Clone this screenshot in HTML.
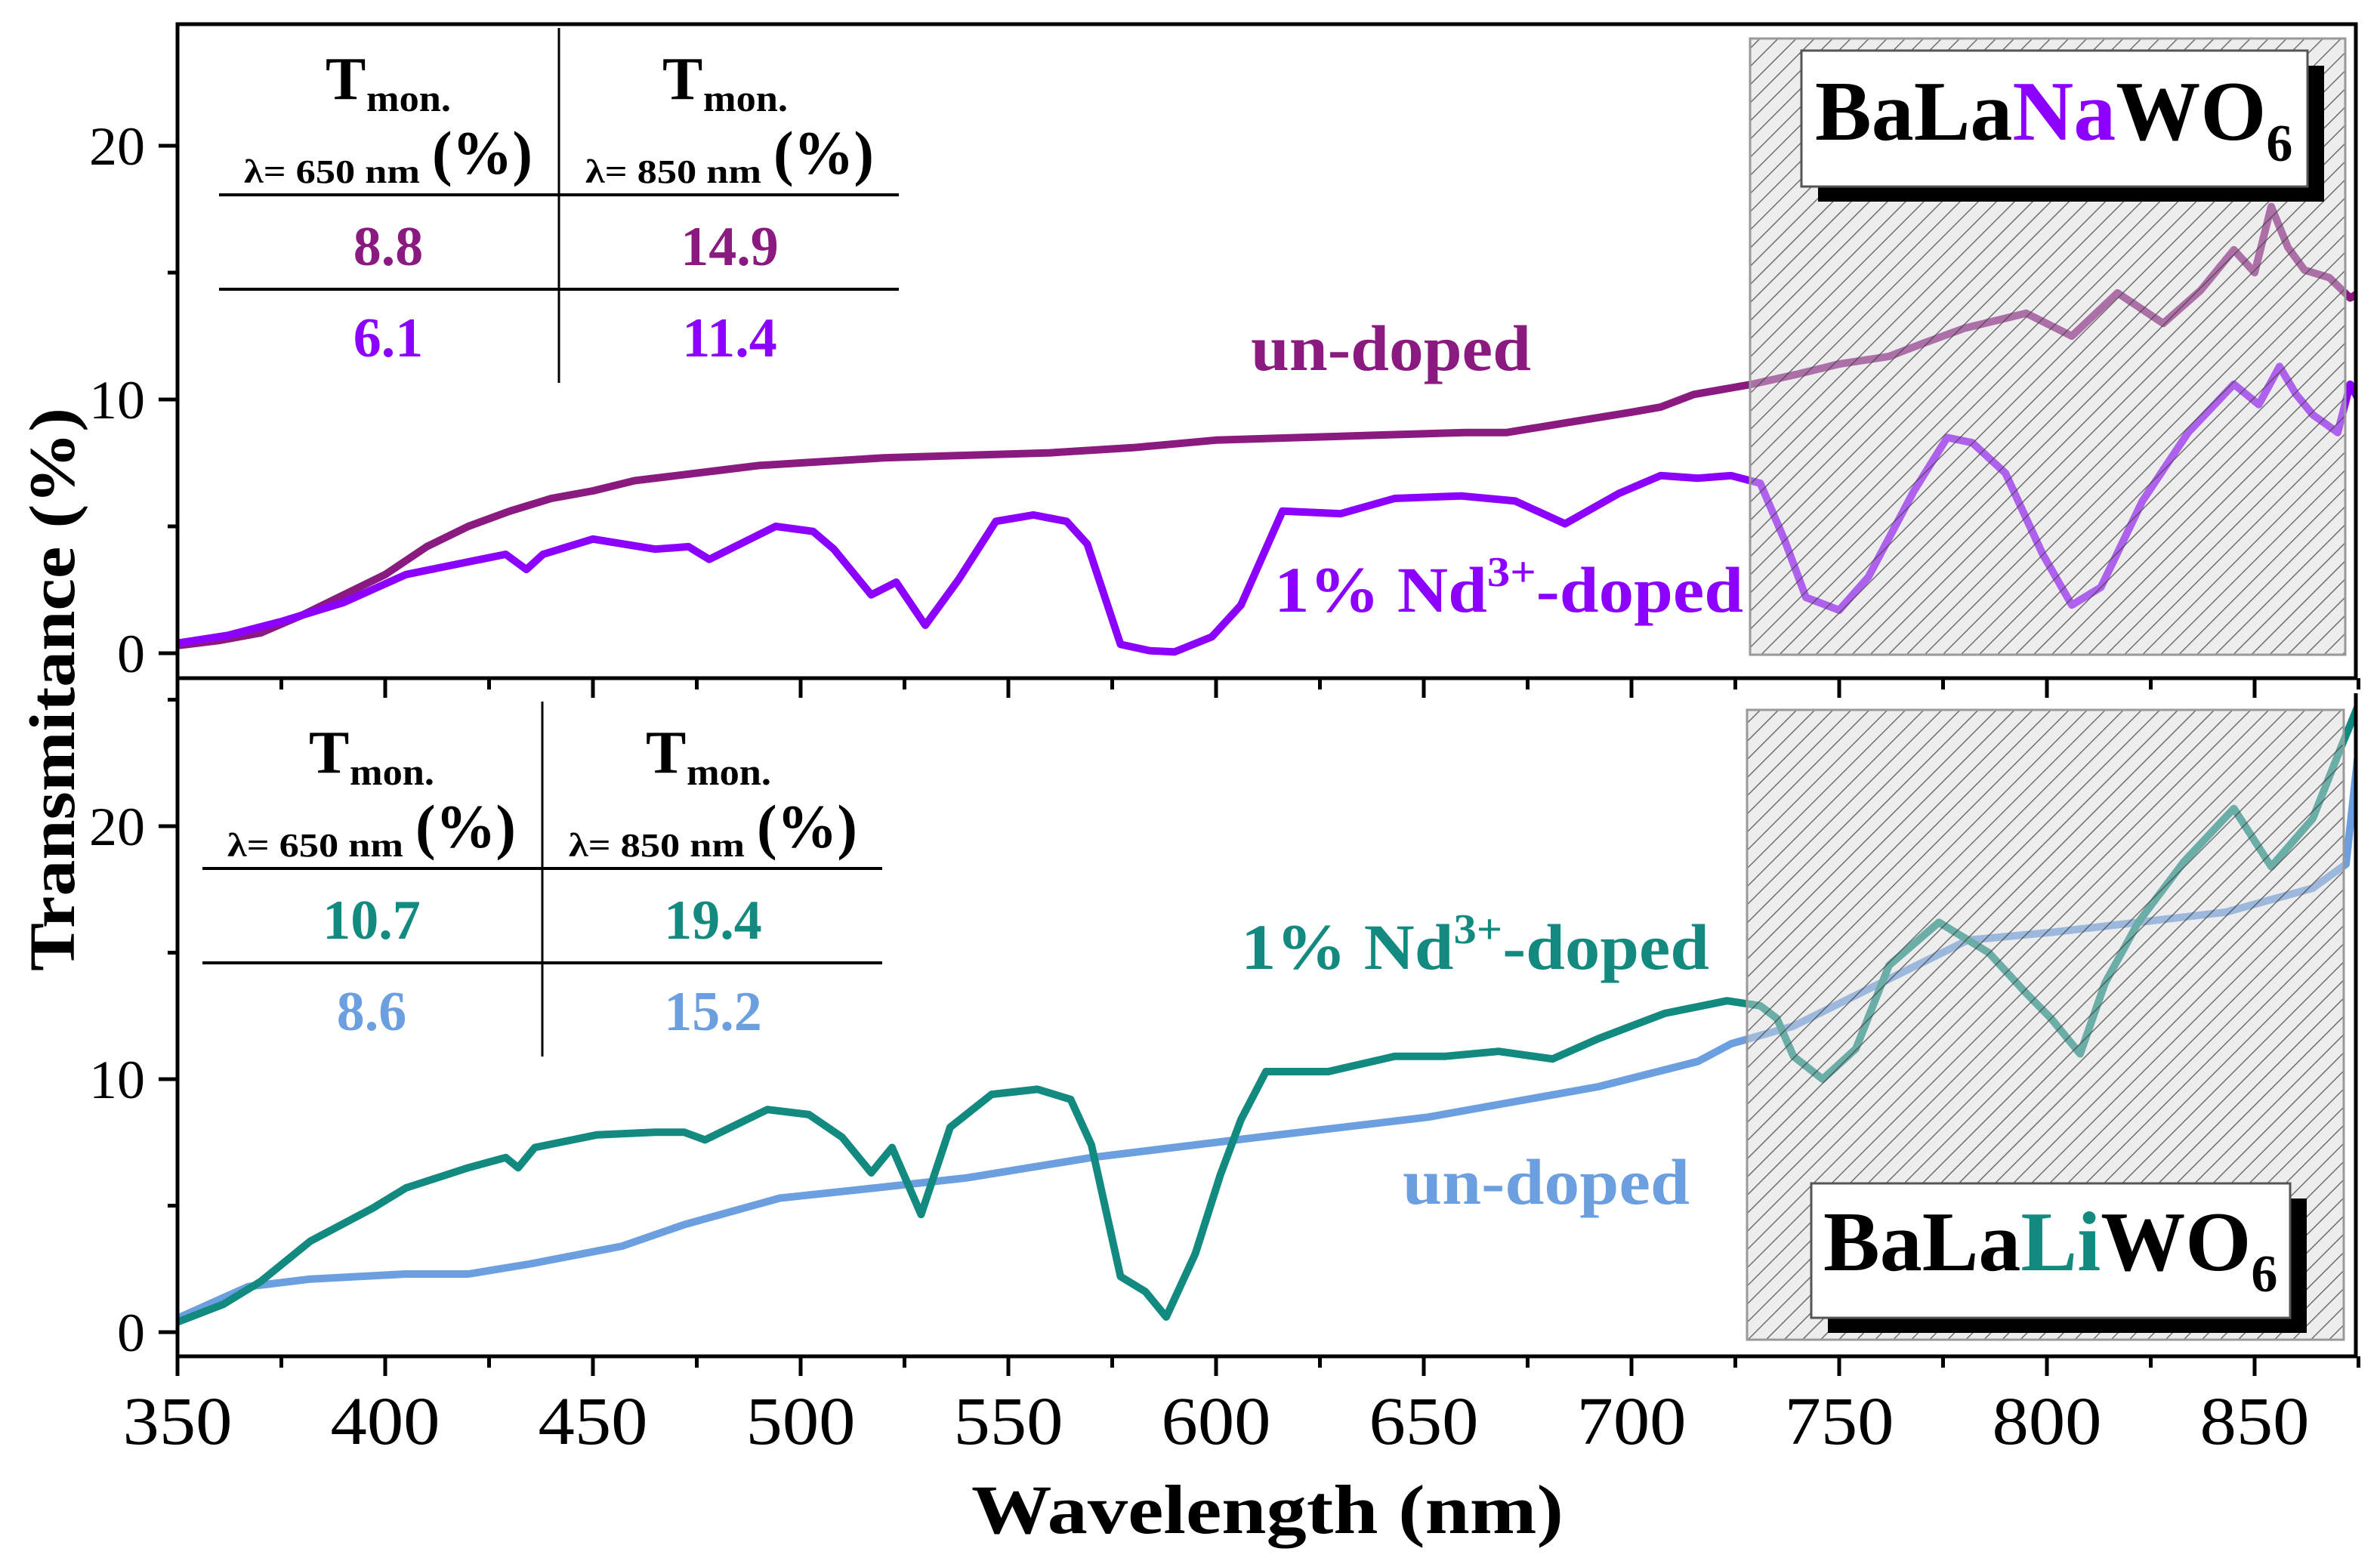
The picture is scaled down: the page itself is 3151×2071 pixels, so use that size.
<!DOCTYPE html>
<html><head><meta charset="utf-8">
<style>
html,body{margin:0;padding:0;background:#fff;}
svg{display:block;}
text{font-family:"Liberation Serif","Times New Roman",serif;}
</style></head>
<body>
<svg id="chart" width="3151" height="2071" viewBox="0 0 3151 2071" xmlns="http://www.w3.org/2000/svg">
<defs>
<pattern id="hatch" patternUnits="userSpaceOnUse" width="17" height="17" patternTransform="rotate(45)">
<rect width="17" height="17" fill="rgba(215,215,215,0.45)"/>
<line x1="0" y1="0" x2="0" y2="17" stroke="rgba(70,70,70,0.75)" stroke-width="3"/>
</pattern>
<clipPath id="clipTop"><rect x="235" y="32" width="2884" height="866"/></clipPath>
<clipPath id="clipBot"><rect x="235" y="918" width="2884" height="878"/></clipPath>
</defs>
<g id="plot"></g>
</svg>
<script>
// ---- data (wavelength nm, transmittance %) ----
const naUndopedW = [350,360,370,380,390,400,410,420,430,440,450,460,470,480,490,500,520,540,560,580,600,620,640,660,670,685,700,707,715,729,740,750,762,770,780,795,806,817,828,837,845,850,854,858,862,868,873,875];
const naUndopedV = [0.3,0.5,0.8,1.5,2.3,3.1,4.2,5.0,5.6,6.1,6.4,6.8,7.0,7.2,7.4,7.5,7.7,7.8,7.9,8.1,8.4,8.5,8.6,8.7,8.7,9.1,9.5,9.7,10.2,10.6,11.0,11.4,11.7,12.2,12.8,13.4,12.5,14.2,13.0,14.3,15.9,15.0,17.6,16.0,15.1,14.8,14.0,14.2];
const naDopedW = [350,362,375,390,405,420,429,434,438,450,465,473,478,494,503,508,517,523,530,538,547,556,564,569,577,584,590,599,606,616,630,643,659,672,684,697,707,716,724,731,737,742,750,757,768,776,782,790,799,806,813,823,834,845,851,856,860,864,870,873,875];
const naDopedV = [0.4,0.7,1.25,2.0,3.1,3.6,3.9,3.3,3.9,4.5,4.1,4.2,3.7,5.0,4.8,4.1,2.3,2.8,1.1,2.9,5.2,5.45,5.2,4.3,0.35,0.1,0.05,0.65,1.9,5.6,5.5,6.1,6.2,6.0,5.1,6.3,7.0,6.9,7.0,6.7,4.4,2.2,1.7,3.0,6.4,8.5,8.3,7.1,3.9,1.9,2.6,6.0,8.7,10.6,9.8,11.3,10.2,9.4,8.7,10.6,10.0];
const liDopedW = [350,361,370,382,397,405,420,429,432,436,451,465,472,477,492,502,510,517,522,529,536,546,557,565,570,577,583,588,595,601,606,612,627,643,655,668,681,692,708,723,731,735,739,746,754,762,774,786,795,801,808,814,822,833,845,854,864,871,875];
const liDopedV = [0.4,1.1,2.0,3.6,4.9,5.7,6.5,6.9,6.5,7.3,7.8,7.9,7.9,7.6,8.8,8.6,7.7,6.3,7.3,4.65,8.1,9.4,9.6,9.2,7.4,2.2,1.6,0.6,3.1,6.2,8.4,10.3,10.3,10.9,10.9,11.1,10.8,11.6,12.6,13.1,12.9,12.4,10.9,10.0,11.2,14.5,16.2,15.0,13.4,12.4,11.0,13.8,16.2,18.6,20.7,18.4,20.3,23.2,24.8];
const liUndopedW = [350,367,382,405,420,435,457,472,495,518,540,570,610,651,692,716,724,739,760,781,801,822,843,864,872,875];
const liUndopedV = [0.55,1.8,2.1,2.3,2.3,2.7,3.4,4.25,5.3,5.7,6.1,6.9,7.7,8.5,9.7,10.7,11.4,12.1,13.8,15.5,15.8,16.2,16.6,17.55,18.5,23.0];
const xTicks = [350,400,450,500,550,600,650,700,750,800,850];
const yTicks = [0,10,20];
const tableNa = [["8.8","14.9"],["6.1","11.4"]];
const tableLi = [["10.7","19.4"],["8.6","15.2"]];

// ---- axes ----
const X0 = 235, XPX = 5.5;
function xs(w){ return X0 + (w - 350) * XPX; }
function ysTop(v){ return 865 - 33.6 * v; }
function ysBot(v){ return 1764 - 33.5 * v; }

const NS = "http://www.w3.org/2000/svg";
const plot = document.getElementById("plot");
function mk(tag, attrs, parent){
  const e = document.createElementNS(NS, tag);
  for (const k in attrs) e.setAttribute(k, attrs[k]);
  (parent || plot).appendChild(e);
  return e;
}
function series(ws, vs, yf, color, clip, name){
  const pts = ws.map((w,i)=> xs(w).toFixed(1)+","+yf(vs[i]).toFixed(1)).join(" ");
  const p = mk("polyline", {points: pts, fill:"none", stroke: color, "stroke-width": 10, "stroke-linejoin":"round", "clip-path":"url(#"+clip+")"});
  
  
}

series(naUndopedW, naUndopedV, ysTop, "#8a1a7f", "clipTop", "na-undoped-line");
series(naDopedW, naDopedV, ysTop, "#8c00ff", "clipTop", "na-nd-doped-line");
series(liUndopedW, liUndopedV, ysBot, "#6c9fe0", "clipBot", "li-undoped-line");
series(liDopedW, liDopedV, ysBot, "#138a80", "clipBot", "li-nd-doped-line");

const h1 = mk("rect", {x:2317, y:51, width:788, height:816, fill:"url(#hatch)", stroke:"#999", "stroke-width":3});


const h2 = mk("rect", {x:2313, y:940, width:790, height:834, fill:"url(#hatch)", stroke:"#999", "stroke-width":3});



const f1 = mk("path", {d:"M235,32 H3119 V898 H235 Z", fill:"none", stroke:"#000", "stroke-width":5});


const f2 = mk("path", {d:"M235,918 V1796 H3119 V918", fill:"none", stroke:"#000", "stroke-width":5});



for (let w = 350; w <= 875; w += 25){
  const major = (w % 50 === 0);
  const len = major ? 26 : 15;
  [898, 1796].forEach(base=>{
    const t = mk("line", {x1:xs(w), x2:xs(w), y1:base, y2:base+len, stroke:"#000", "stroke-width":5});
    
    
  });
}
xTicks.forEach(w=>{
  const t = mk("text", {x:xs(w), y:1912, "font-size":90, "text-anchor":"middle", fill:"#000", textLength:145, lengthAdjust:"spacingAndGlyphs"});
  t.textContent = w;
  
  
});
[[ysTop, 0, 25], [ysBot, 0, 25]].forEach(([yf,a,b])=>{
  for (let v = a; v <= b; v += 5){
    const y = yf(v);
    if (yf === ysTop && y < 40) continue;
    if (yf === ysBot && y < 925) continue;
    const major = (v % 10 === 0);
    const t = mk("line", {x1:235, x2: major ? 210 : 222, y1:y, y2:y, stroke:"#000", "stroke-width":5});
    
    
  }
  yTicks.forEach(v=>{
    const s = String(v);
    const t = mk("text", {x:192, y:yf(v)+25, "font-size":72, "text-anchor":"end", fill:"#000", textLength: s.length*37, lengthAdjust:"spacingAndGlyphs"});
    t.textContent = s;
    
    
  });
});

function table(dx, dy, vals, c1, c2, nm){
  const g = mk("g", {transform:"translate("+dx+","+dy+")"});
  
  
  mk("line", {x1:740, x2:740, y1:37, y2:507, stroke:"#000", "stroke-width":3}, g);
  mk("line", {x1:290, x2:1190, y1:258, y2:258, stroke:"#000", "stroke-width":4}, g);
  mk("line", {x1:290, x2:1190, y1:383, y2:383, stroke:"#000", "stroke-width":4}, g);
  [[431,323,"650",572],[877,775,"850",1024]].forEach(([tx,lx,lam,px])=>{
    const T = mk("text", {x:tx, y:131, "font-size":80, "font-weight":"bold"}, g); T.textContent = "T";
    const m = mk("text", {x:tx+54, y:147, "font-size":50, "font-weight":"bold", textLength:112, lengthAdjust:"spacingAndGlyphs"}, g); m.textContent = "mon.";
    const l = mk("text", {x:lx, y:242, "font-size":44, "font-weight":"bold", textLength:233, lengthAdjust:"spacingAndGlyphs"}, g); l.textContent = "λ= "+lam+" nm";
    const p = mk("text", {x:px, y:230, "font-size":82, "font-weight":"bold", textLength:133, lengthAdjust:"spacingAndGlyphs"}, g); p.textContent = "(%)";
  });
  [[vals[0], c1, 325], [vals[1], c2, 446]].forEach(([row,c,y])=>{
    const a = mk("text", {x:514, y:y+26, "font-size":74, "font-weight":"bold", fill:c, "text-anchor":"middle"}, g); a.textContent = row[0];
    const b = mk("text", {x:966, y:y+26, "font-size":74, "font-weight":"bold", fill:c, "text-anchor":"middle"}, g); b.textContent = row[1];
  });
}
table(0, 0, tableNa, "#8a1a7f", "#8c00ff", "table-na");
table(-22, 892, tableLi, "#138a80", "#6c9fe0", "table-li");

function label(txt, x, y, w, c, nm, sup){
  const t = mk("text", {x:x, y:y, "font-size":86, "font-weight":"bold", fill:c, textLength:w, lengthAdjust:"spacingAndGlyphs"});
  if (sup){
    t.appendChild(document.createTextNode("1% Nd"));
    const s = mk("tspan", {dy:-34, "font-size":56}, t); s.textContent = "3+";
    const r = mk("tspan", {dy:34}, t); r.textContent = "-doped";
  } else t.textContent = txt;
  
  
}
label("un-doped", 1656, 490, 371, "#8a1a7f", "label-na-undoped", false);
label("", 1687, 810, 621, "#8c00ff", "label-na-nd-doped", true);
label("", 1643, 1283, 620, "#138a80", "label-li-nd-doped", true);
label("un-doped", 1857, 1594, 380, "#6c9fe0", "label-li-undoped", false);

function box(x, y, w, h, mid, c, tx, ty, nm){
  const g = mk("g", {});
  
  
  mk("rect", {x:x+22, y:y+20, width:w, height:h, fill:"#000"}, g);
  mk("rect", {x:x, y:y, width:w, height:h, fill:"#fff", stroke:"#555", "stroke-width":3}, g);
  const t = mk("text", {x:tx, y:ty, "font-size":112, "font-weight":"bold", fill:"#000"}, g);
  t.appendChild(document.createTextNode("BaLa"));
  const m = mk("tspan", {fill:c}, t); m.textContent = mid;
  const r = mk("tspan", {}, t); r.textContent = "WO";
  const s = mk("tspan", {dy:28, "font-size":70}, t); s.textContent = "6";
}
box(2385, 67, 670, 180, "Na", "#8c00ff", 2403, 185, "label-balanawo6");
box(2398, 1567, 634, 178, "Li", "#138a80", 2414, 1682, "label-balaliwo6");

const xt = mk("text", {x:1678, y:2030, "font-size":92, "font-weight":"bold", "text-anchor":"middle", textLength:784, lengthAdjust:"spacingAndGlyphs"});
xt.textContent = "Wavelength (nm)";


const yt = mk("text", {x:0, y:0, "font-size":86, "font-weight":"bold", "text-anchor":"middle", textLength:746, lengthAdjust:"spacingAndGlyphs", transform:"translate(98,913) rotate(-90)"});
yt.textContent = "Transmitance (%)";


</script>
</body></html>
